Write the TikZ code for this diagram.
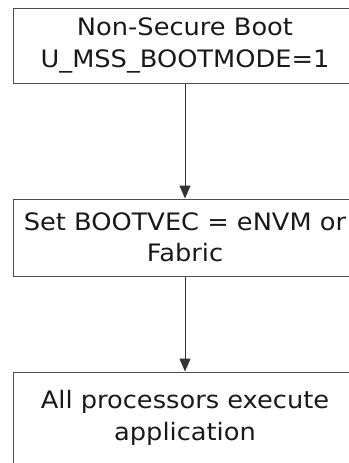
\documentclass[tikz,border=0pt]{standalone}
\usepackage{fontspec}
\setmainfont[FakeStretch=1.07]{DejaVu Sans}
\usetikzlibrary{arrows.meta}
\begin{document}
\begin{tikzpicture}[x=1pt,y=-1pt,
  box/.style={draw=black!70, line width=1pt, minimum width=344pt, inner sep=0pt,
    align=center, font=\fontsize{24}{31.5}\selectfont, text=black!90},
  conn/.style={draw=black!80, line width=1pt, -{Triangle[length=13pt,width=11pt]}}]
\useasboundingbox (0,0) rectangle (348,463);
\node[box, minimum height=75pt] (a) at (185,45.5) {Non-Secure Boot\\U\_MSS\_BOOTMODE=1};
\node[box, minimum height=77pt] (b) at (185,237.5) {Set BOOTVEC = eNVM or\\Fabric};
\node[box, minimum height=92pt] (c) at (185,418) {All processors execute\\application};
\draw[conn] (a) -- (b);
\draw[conn] (b) -- (c);
\end{tikzpicture}
\end{document}
